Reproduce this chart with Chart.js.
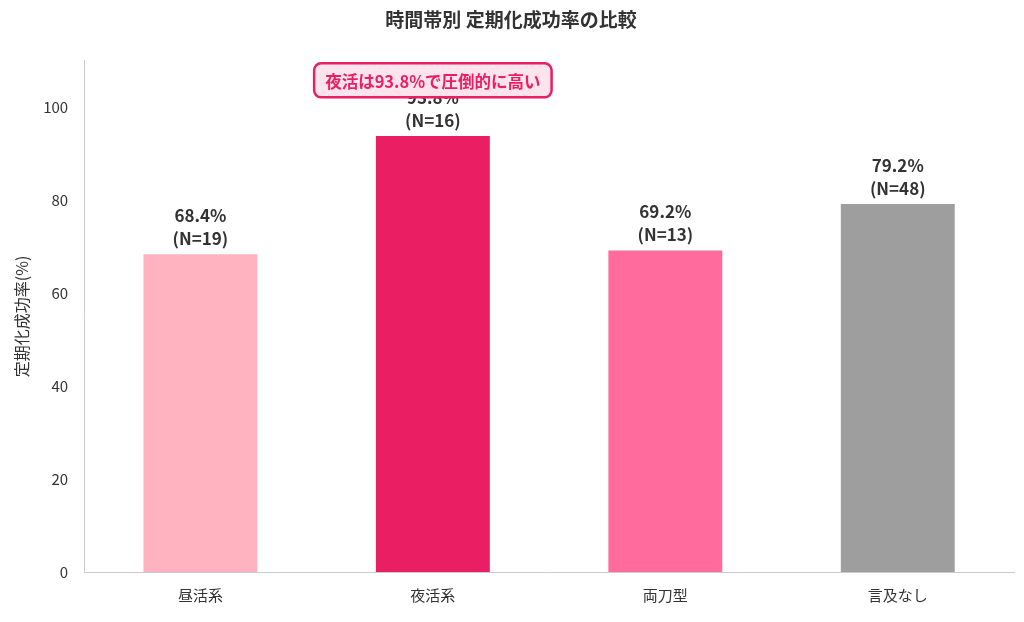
<!DOCTYPE html>
<html><head><meta charset="utf-8">
<script src="https://cdn.jsdelivr.net/npm/chart.js@4"></script>
<style>body{margin:0;background:#fff}#w{width:1024px;height:622px}</style>
</head><body><div id="w"><canvas id="c"></canvas></div>
<script>
const categories=['昼活系','夜活系','両刀型','言及なし'];
const rates=[68.4,93.8,69.2,79.2];
const counts=[19,16,13,48];
const colors=['#FFB3C1','#E91E63','#FF6B9D','#9E9E9E'];
const yTicks=[0,20,40,60,80,100];
const note='夜活は93.8%で圧倒的に高い';
const noteY=105.8;
const F='"Noto Sans CJK JP","Noto Sans",sans-serif';
const labels={id:'labels',afterDatasetsDraw(ch){
 const ctx=ch.ctx, m=ch.getDatasetMeta(0);
 ctx.save();ctx.fillStyle='#333';ctx.font='bold 17px '+F;ctx.textAlign='center';
 m.data.forEach((b,i)=>{ctx.fillText(rates[i].toFixed(1)+'%',b.x,b.y-32);ctx.fillText('(N='+counts[i]+')',b.x,b.y-9);});
 const x=m.data[1].x,y=ch.scales.y.getPixelForValue(noteY);
 ctx.font='bold 16.5px '+F;const w=ctx.measureText(note).width+22,h=34;
 ctx.beginPath();ctx.roundRect(x-w/2,y-h/2,w,h,7);ctx.fillStyle='#FDE4EC';ctx.fill();
 ctx.lineWidth=2.5;ctx.strokeStyle='#E91E63';ctx.stroke();
 ctx.fillStyle='#E91E63';ctx.textBaseline='middle';ctx.fillText(note,x,y+1);
 ctx.restore();}};
new Chart(document.getElementById('c'),{type:'bar',
 data:{labels:categories,datasets:[{data:rates,backgroundColor:colors,categoryPercentage:1,barPercentage:0.49}]},
 options:{responsive:true,maintainAspectRatio:false,animation:false,
  layout:{padding:{left:8,right:10,top:0,bottom:12}},
  plugins:{legend:{display:false},tooltip:{enabled:false},
   title:{display:true,text:'時間帯別 定期化成功率の比較',color:'#333',font:{family:F,size:19,weight:'bold'},padding:{top:8,bottom:30}}},
  scales:{x:{grid:{display:false},border:{color:'#ccc'},ticks:{color:'#333',padding:6,font:{family:F,size:15}}},
   y:{min:0,max:110,afterBuildTicks(s){s.ticks=yTicks.map(v=>({value:v}));},grid:{display:false},border:{color:'#ccc'},
    ticks:{color:'#333',padding:8,font:{family:F,size:15}},
    title:{display:true,text:'定期化成功率(%)',color:'#333',font:{family:F,size:16}}}}},
 plugins:[labels]});
</script></body></html>
